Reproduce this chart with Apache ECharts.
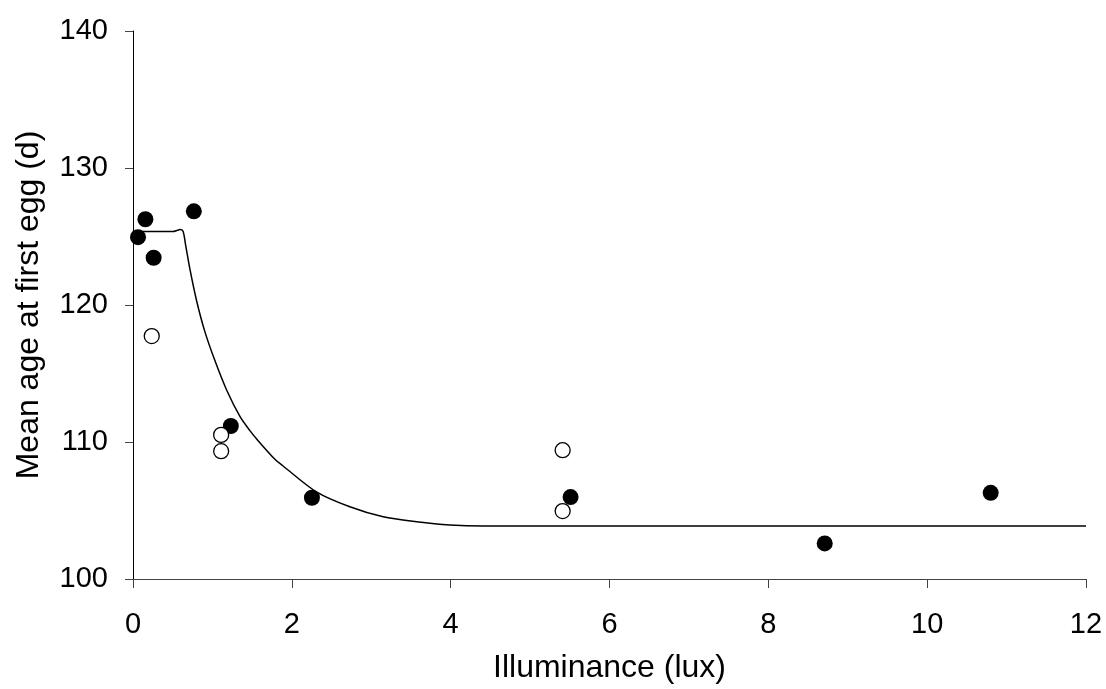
<!DOCTYPE html>
<html>
<head>
<meta charset="utf-8">
<script src="https://cdn.jsdelivr.net/npm/echarts@6/dist/echarts.min.js"></script>
<style>
  html, body { margin: 0; padding: 0; background: #fff; }
  #chart { width: 1106px; height: 689px; }
</style>
</head>
<body>
<div id="chart"></div>
<script>
// Illuminance (lux) vs mean age at first egg (d)
const filledPoints = [
  [0.063, 124.95], [0.156, 126.26], [0.26, 123.45], [0.766, 126.84],
  [1.232, 111.17], [2.253, 105.93], [5.51, 105.98], [8.71, 102.6], [10.80, 106.29]
];
const openPoints = [
  [0.236, 117.73], [1.11, 110.52], [1.11, 109.33], [5.41, 109.40], [5.41, 104.96]
];
// fitted response curve, traced point by point
const fitCurve = [
  [0, 125.36], [0.50, 125.36], [0.56, 125.45], [0.59, 125.51], [0.63, 125.39],
  [0.66, 124.47], [0.72, 122.52], [0.80, 120.33], [0.90, 118.15], [1.03, 115.96],
  [1.18, 113.78], [1.35, 111.83], [1.47, 110.85], [1.56, 110.2], [1.79, 108.72],
  [1.89, 108.25], [2.31, 106.36], [2.73, 105.27], [3.15, 104.54], [3.57, 104.18],
  [3.99, 103.94], [4.41, 103.86], [12, 103.86]
];
const xTicks = { min: 0, max: 12, step: 2 };
const yTicks = { min: 100, max: 140, step: 10 };

const font = 'Liberation Sans, Arial, sans-serif';
const chart = echarts.init(document.getElementById('chart'), null, { renderer: 'canvas' });
chart.setOption({
  animation: false,
  backgroundColor: '#fff',
  grid: { left: 133, right: 20, top: 31, bottom: 110, containLabel: false },
  xAxis: {
    type: 'value',
    min: xTicks.min, max: xTicks.max, interval: xTicks.step,
    name: 'Illuminance (lux)',
    nameLocation: 'middle',
    nameGap: 73,
    nameTextStyle: { fontFamily: font, fontSize: 32, color: '#000' },
    axisLine: { show: true, onZero: false, lineStyle: { color: '#444', width: 1 } },
    axisTick: { show: true, inside: false, length: 9, lineStyle: { color: '#444', width: 1 } },
    axisLabel: { fontFamily: font, fontSize: 29, color: '#000', margin: 31 },
    splitLine: { show: false }
  },
  yAxis: {
    type: 'value',
    min: yTicks.min, max: yTicks.max, interval: yTicks.step,
    name: 'Mean age at first egg (d)',
    nameLocation: 'middle',
    nameGap: 88,
    nameTextStyle: { fontFamily: font, fontSize: 32, color: '#000' },
    axisLine: { show: true, onZero: false, lineStyle: { color: '#000', width: 1 } },
    axisTick: { show: true, inside: false, length: 8, lineStyle: { color: '#444', width: 1 } },
    axisLabel: { fontFamily: font, fontSize: 29, color: '#000', margin: 25 },
    splitLine: { show: false }
  },
  series: [
    {
      type: 'line',
      data: fitCurve,
      showSymbol: false,
      smooth: 0.3,
      lineStyle: { color: '#000', width: 1.5 },
      z: 1
    },
    {
      type: 'scatter',
      data: filledPoints,
      symbol: 'circle',
      symbolSize: 16,
      itemStyle: { color: '#000', opacity: 1 },
      z: 2
    },
    {
      type: 'scatter',
      data: openPoints,
      symbol: 'circle',
      symbolSize: 15,
      itemStyle: { color: '#fff', borderColor: '#000', borderWidth: 1.3, opacity: 1 },
      z: 3
    }
  ]
});
</script>
</body>
</html>
